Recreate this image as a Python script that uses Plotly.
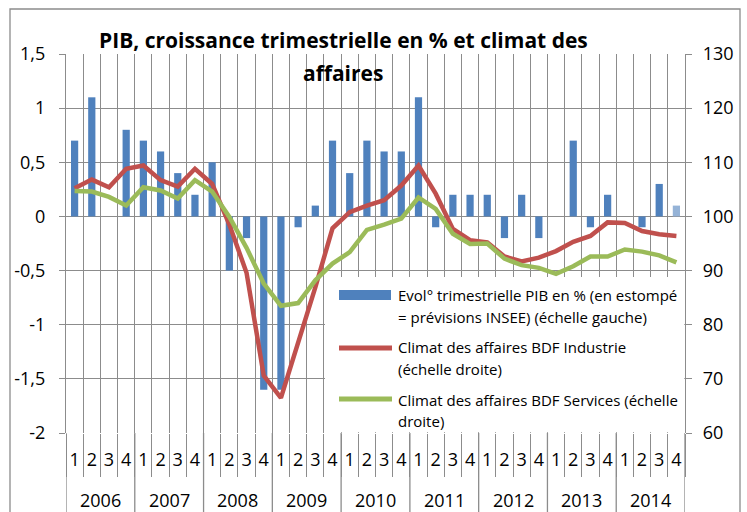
import plotly.graph_objects as go

# ---------------- data ----------------
years = ["2006", "2007", "2008", "2009", "2010", "2011", "2012", "2013", "2014"]
quarters = ["1", "2", "3", "4"]

# quarterly GDP growth in % (left scale)
gdp = [0.7, 1.1, 0.0, 0.8,
       0.7, 0.6, 0.4, 0.2,
       0.5, -0.5, -0.2, -1.6,
       -1.6, -0.1, 0.1, 0.7,
       0.4, 0.7, 0.6, 0.6,
       1.1, -0.1, 0.2, 0.2,
       0.2, -0.2, 0.2, -0.2,
       0.0, 0.7, -0.1, 0.2,
       0.0, -0.1, 0.3, 0.1]
# True = INSEE forecast (shown faded)
gdp_forecast = [False] * 35 + [True]

# Banque de France business climate (right scale)
industrie = [105.2, 106.8, 105.4, 108.8,
             109.4, 106.7, 105.5, 108.8,
             106.0, 98.5, 89.6, 70.6,
             66.5, 76.5, 86.9, 97.8,
             100.8, 102.0, 103.0, 105.7,
             109.4, 104.2, 97.7, 95.6,
             95.2, 92.6, 91.7, 92.4,
             93.6, 95.3, 96.4, 98.9,
             98.8, 97.3, 96.7, 96.4]
services = [104.7, 104.6, 103.6, 102.0,
            105.4, 104.8, 103.3, 106.7,
            104.6, 99.9, 94.2, 87.6,
            83.5, 84.0, 88.2, 91.3,
            93.4, 97.5, 98.5, 99.6,
            103.5, 101.4, 96.8, 94.9,
            95.0, 92.2, 91.0, 90.5,
            89.4, 90.8, 92.6, 92.6,
            93.9, 93.5, 92.8, 91.5]

left_tickvals = [-2, -1.5, -1, -0.5, 0, 0.5, 1, 1.5]
left_ticktext = ["-2", "-1,5", "-1", "-0,5", "0", "0,5", "1", "1,5"]
right_tickvals = [60, 70, 80, 90, 100, 110, 120, 130]
right_ticktext = ["60", "70", "80", "90", "100", "110", "120", "130"]

title_lines = ["PIB, croissance trimestrielle en % et climat des", "affaires"]
legend_lines = [
    ["Evol° trimestrielle PIB en % (en estompé", "= prévisions INSEE) (échelle gauche)"],
    ["Climat des affaires BDF Industrie", "(échelle droite)"],
    ["Climat des affaires BDF Services (échelle", "droite)"],
]

# ---------------- style ----------------
FONT = "Open Sans"
BLUE = "#4F81BD"
BLUE_LIGHT = "#95B3D7"
RED = "#C0504D"
GREEN = "#9BBB59"
GRID = "#8C8C8C"
W, H = 747, 512
L, R, T, B = 66, 685, 54, 433  # plot area in pixels


def px(p):
    return (p - L) / (R - L)


def py(p):
    return (B - p) / (B - T)


n = len(years) * len(quarters)
xs = list(range(n))
qlabels = quarters * len(years)

fig = go.Figure()
fig.add_trace(go.Bar(
    x=xs, y=gdp, width=0.42,
    marker=dict(color=[BLUE_LIGHT if f else BLUE for f in gdp_forecast], line=dict(width=0)),
    yaxis="y", showlegend=False, hoverinfo="skip"))
fig.add_trace(go.Scatter(
    x=xs, y=industrie, mode="lines", line=dict(color=RED, width=4.5),
    yaxis="y2", showlegend=False))
fig.add_trace(go.Scatter(
    x=xs, y=services, mode="lines", line=dict(color=GREEN, width=4.5),
    yaxis="y2", showlegend=False))

fig.update_layout(
    width=W, height=H,
    margin=dict(l=L, r=W - R, t=T, b=H - B, pad=0),
    paper_bgcolor="white", plot_bgcolor="white",
    font=dict(family=FONT, size=18, color="black"),
    showlegend=False,
    xaxis=dict(
        range=[-0.5, n - 0.5], tickmode="array", tickvals=xs, ticktext=qlabels,
        ticks="", showgrid=False, zeroline=False, showline=False,
        tickfont=dict(size=18), ticklabelstandoff=14,
        minor=dict(tickmode="array", tickvals=[i - 0.5 for i in range(n + 1)],
                   showgrid=True, gridcolor=GRID, gridwidth=1.3,
                   ticks="outside", ticklen=43, tickcolor=GRID, tickwidth=1.3),
    ),
    yaxis=dict(
        range=[-2, 1.5], tickmode="array", tickvals=left_tickvals, ticktext=left_ticktext,
        showgrid=True, gridcolor=GRID, gridwidth=1.3, zeroline=False,
        showline=True, linecolor=GRID, linewidth=1.3,
        ticks="outside", ticklen=6, tickcolor=GRID, tickwidth=1.3,
        ticklabelstandoff=10,
    ),
    yaxis2=dict(
        range=[60, 130], overlaying="y", side="right", tickmode="array",
        tickvals=right_tickvals, ticktext=right_ticktext,
        showgrid=False, zeroline=False,
        showline=True, linecolor=GRID, linewidth=1.3,
        ticks="outside", ticklen=6, tickcolor=GRID, tickwidth=1.3,
        ticklabelstandoff=7,
    ),
)

shapes = []
# outer chart frame
shapes.append(dict(type="rect", xref="paper", yref="paper",
                   x0=px(10), x1=px(740), y0=py(530), y1=py(9),
                   line=dict(color=GRID, width=1.3), layer="below"))
# year dividers below the plot
for k in range(len(years) + 1):
    shapes.append(dict(type="line", xref="x", yref="paper",
                       x0=4 * k - 0.5, x1=4 * k - 0.5, y0=0, y1=py(530),
                       line=dict(color=GRID, width=1.3), layer="above"))
# legend box (covers grid lines)
shapes.append(dict(type="rect", xref="paper", yref="paper",
                   x0=px(325), x1=px(684.3), y0=py(432.3), y1=py(277),
                   fillcolor="white", line=dict(width=0), layer="above"))
# legend symbols
shapes.append(dict(type="rect", xref="paper", yref="paper",
                   x0=px(339), x1=px(391), y0=py(300), y1=py(290),
                   fillcolor=BLUE, line=dict(width=0), layer="above"))
shapes.append(dict(type="line", xref="paper", yref="paper",
                   x0=px(339), x1=px(392), y0=py(348), y1=py(348),
                   line=dict(color=RED, width=5), layer="above"))
shapes.append(dict(type="line", xref="paper", yref="paper",
                   x0=px(339), x1=px(392), y0=py(399), y1=py(399),
                   line=dict(color=GREEN, width=5), layer="above"))

annotations = []
# title
for txt, yy in zip(title_lines, [40, 73]):
    annotations.append(dict(text="<b>" + txt + "</b>", xref="paper", yref="paper",
                            x=px(343), y=py(yy), xanchor="center", yanchor="middle",
                            showarrow=False, font=dict(size=21, family=FONT)))
# legend text
legend_y = [[295, 317], [347, 369], [400, 421]]
for lines, ys in zip(legend_lines, legend_y):
    for txt, yy in zip(lines, ys):
        annotations.append(dict(text=txt, xref="paper", yref="paper",
                                x=px(396), y=py(yy), xanchor="left", yanchor="middle",
                                showarrow=False, font=dict(size=15, family=FONT)))
# year labels
for k, yr in enumerate(years):
    annotations.append(dict(text=yr, xref="x", yref="paper",
                            x=4 * k + 1.5, y=py(500), xanchor="center", yanchor="middle",
                            showarrow=False, font=dict(size=18, family=FONT)))

fig.update_layout(shapes=shapes, annotations=annotations)
fig.write_html("out.html", config={"displayModeBar": False},
               post_script="document.body.style.margin='0';")
